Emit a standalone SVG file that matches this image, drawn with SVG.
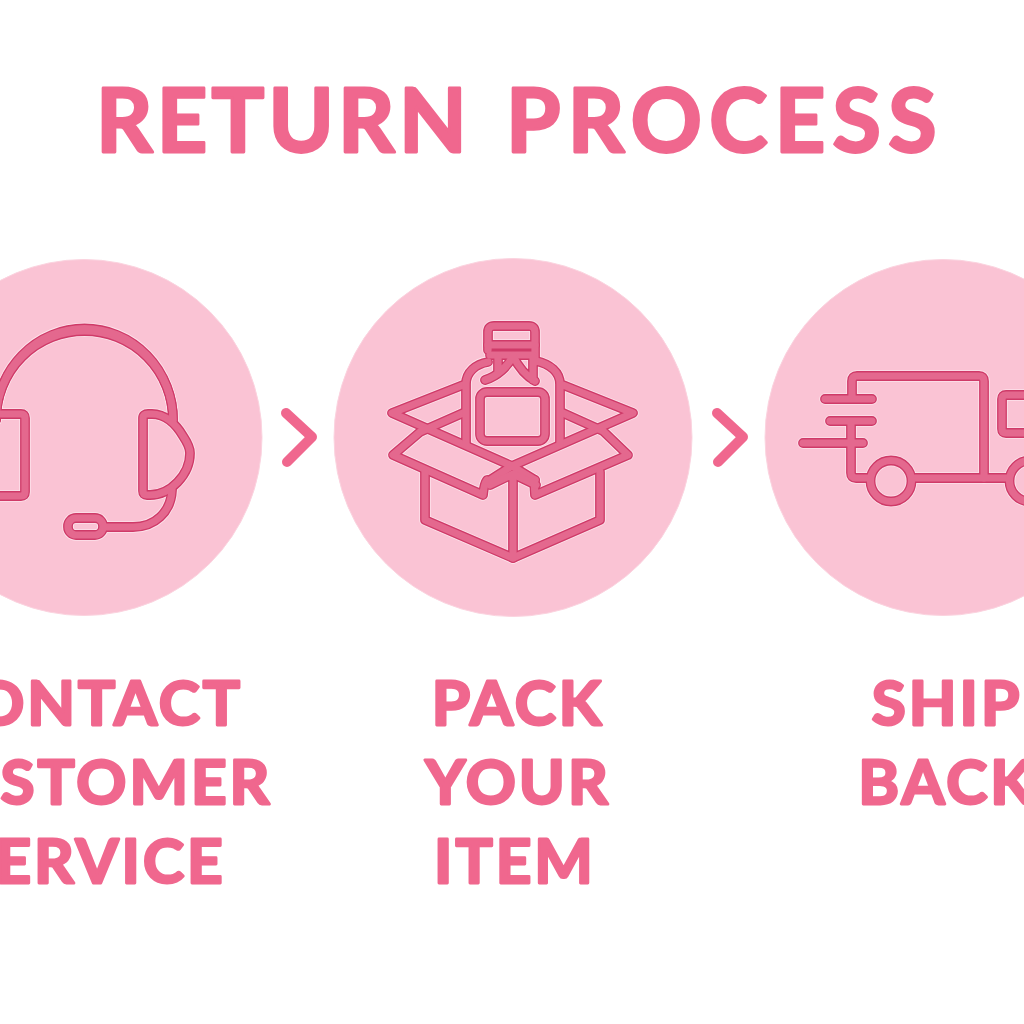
<svg xmlns="http://www.w3.org/2000/svg" width="1024" height="1024" viewBox="0 0 1024 1024">
<style>
.disc{fill:#fac3d4;stroke:#fbd3df;stroke-width:1}
.t{font-family:"Lato","Liberation Sans",sans-serif;font-weight:700;fill:#f0678e;stroke:#f0678e;stroke-width:2.8px;stroke-linejoin:round}
.title{font-size:88px}
.lab{font-size:62px;letter-spacing:3px;text-anchor:middle}
.chev{fill:none;stroke:#f0678e;stroke-width:10;stroke-linecap:round;stroke-linejoin:round}
.ic{fill:none;stroke-linecap:round;stroke-linejoin:round}
.halo{stroke:#fde4ec;stroke-width:11.500}
.edge{stroke:#cf3a68;stroke-width:9.800}
.core{stroke:#e4688e;stroke-width:7.200}
</style>
<defs>
<g id="headset">
<path d="M-4 420A88.500 89 0 0 1 173 420"/>
<path d="M-4 420A88.500 91.500 0 0 1 173 420"/>
<path d="M-5 414H21Q25 414 25 418V492Q25 496 21 496H-5"/>
<path d="M148 414H152C165 414 176 424 183 436C187 442 190 447 190 453C190 475 170 495 150 495H147Q143 495 143 491V418Q143 414 148 414Z"/>
<rect x="68" y="518" width="35" height="17" rx="8"/>
<path d="M104 527H133C155 527 171 512 172 490"/>
</g>
<g id="box">
<path d="M463 385L392 413L512 466L535 480M563 385L633 413L512 466L490 480"/>
<path d="M463 413L420 432L393 455L483 495Q484 484 487 480"/>
<path d="M563 413L603 431L628 455L535 495Q534 484 535 480"/>
<path d="M425 472V520L513 558L600 520V472"/>
<path d="M513 477V558M490 485L513 474L536 485"/>
<path d="M466 444V384C466 372 476 364 488 362M560 444V384C560 372 550 364 536 361"/>
<path d="M488 350V332Q488 326 494 326H529Q535 326 535 332V362"/>
<path d="M488 345H535M490 355H533"/>
<path d="M485 380C498 376 508 366 513 356M498 356V372M513 356C518 366 526 376 535 381M533 358V380"/>
<rect x="480" y="392" width="65" height="49" rx="7"/>
</g>
<g id="truck">
<path d="M852 398V381Q852 376 857 376H979Q984 376 984 381V478"/>
<path d="M868 478H856Q851 478 851 473V422"/>
<path d="M915 478H1008"/>
<circle cx="891" cy="481" r="20.500"/>
<circle cx="1030" cy="481" r="20.500"/>
<path d="M825 399H872M830 421H872M803 443H863"/>
<path d="M1030 395H1006Q1002 395 1002 399V429Q1002 433 1006 433H1030"/>
</g>
</defs>
<rect width="1024" height="1024" fill="#fff"/>
<text class="t title" y="152"><tspan x="96" letter-spacing="4.200">RETURN </tspan><tspan x="506" letter-spacing="7.300">PROCESS</tspan></text>
<g id="node-contact">
<circle class="disc" cx="84" cy="437.500" r="178"/>
<g class="ic"><use href="#headset" class="halo"/><use href="#headset" class="edge"/><use href="#headset" class="core"/></g>
<text class="t lab" x="87" y="725">CONTACT</text>
<text class="t lab" x="90" y="804">CUSTOMER</text>
<text class="t lab" x="92" y="883">SERVICE</text>
</g>
<g id="node-pack">
<circle class="disc" cx="513" cy="437.500" r="179"/>
<g class="ic"><use href="#box" class="halo"/><use href="#box" class="edge"/><use href="#box" class="core"/></g>
<text class="t lab" x="518" y="725">PACK</text>
<text class="t lab" x="518" y="804">YOUR</text>
<text class="t lab" x="515" y="883">ITEM</text>
</g>
<g id="node-ship">
<circle class="disc" cx="943" cy="437.500" r="178"/>
<g class="ic"><use href="#truck" class="halo"/><use href="#truck" class="edge"/><use href="#truck" class="core"/></g>
<text class="t lab" x="947" y="725">SHIP</text>
<text class="t lab" x="947" y="804">BACK</text>
</g>
<g id="connectors">
<path class="chev" d="M286 413L312 437L287 462"/>
<path class="chev" d="M717 413L743 437L718 462"/>
</g>
</svg>
